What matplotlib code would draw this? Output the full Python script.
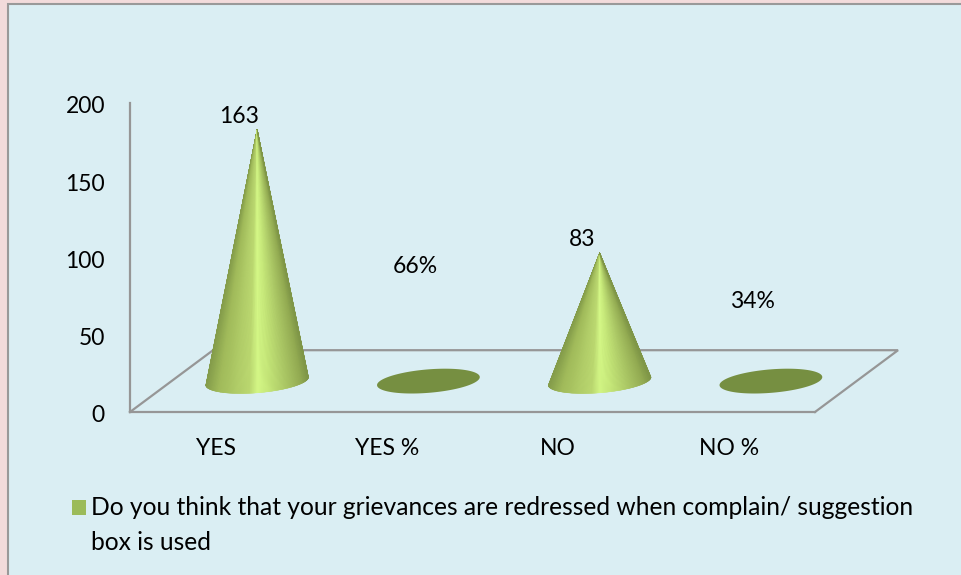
import numpy as np
import matplotlib
matplotlib.use("Agg")
import matplotlib.pyplot as plt
from matplotlib.collections import PolyCollection
from matplotlib.colors import LinearSegmentedColormap
from matplotlib.patches import Patch, Polygon, Rectangle
from matplotlib.transforms import ScaledTranslation

categories = ["YES", "YES %", "NO", "NO %"]
values = [163, 0.66, 83, 0.34]
value_labels = ["163", "66%", "83", "34%"]
y_ticks = [0, 50, 100, 150, 200]
legend_label = ("Do you think that your grievances are redressed when complain/ suggestion\n"
                "box is used")

# label offsets from the cone tip, in pixels
label_offsets = [(-18, 13), (-13, 114), (-18, 13), (-18, 79)]

W, H = 962, 575
depth_x = 0.485  # floor depth, in categories
depth_y = 40     # floor depth, in value units
base_a = 0.30
base_b = 7.6
base_tilt = 2.6
line_color = "#969696"
font_size = 16.5
legend_size = 17.75

plt.rcParams["font.family"] = ["Lato", "DejaVu Sans"]
cone_cmap = LinearSegmentedColormap.from_list("cone", [
    (0.0, "#849c4a"), (0.12, "#a0ba5a"), (0.3, "#b2ce69"), (0.42, "#bcd971"), (0.5, "#d6fa88"),
    (0.6, "#c8ea7b"), (0.8, "#a8c463"), (0.93, "#93ab52"), (1.0, "#7f9647")])


def baseEdge(center, t):
    x = center + base_a * np.cos(t)
    y = depth_y / 2 + base_tilt * np.cos(t) + base_b * np.sin(t)
    return x, y


def drawCone(ax, center, value):
    t = np.linspace(0, 2 * np.pi, 241)
    x, y = baseEdge(center, t)
    if value < 5:
        ax.add_patch(Polygon(np.column_stack([x, y]), closed=True, facecolor="#768f41",
                             edgecolor="none", zorder=3, clip_on=False))
        return
    tip = (center, depth_y / 2 + value)
    t = np.linspace(np.pi, 2 * np.pi, 161)
    x, y = baseEdge(center, t)
    # solid shape under the wedges so the floor line does not show through
    outline = [tip] + list(zip(x, y))
    ax.add_patch(Polygon(outline, closed=True, facecolor="#a5bf5e", edgecolor="none",
                         zorder=2.5, clip_on=False))
    polys = [[tip, (x[k], y[k]), (x[k + 1], y[k + 1])] for k in range(len(t) - 1)]
    shade = (np.cos(t[:-1]) + 1) / 2
    wedges = PolyCollection(polys, array=shade, cmap=cone_cmap, clim=(0, 1),
                            edgecolors="face", linewidths=0.3, zorder=3, clip_on=False)
    ax.add_collection(wedges)


fig = plt.figure(figsize=(W / 100, H / 100), dpi=100, facecolor="#f2dbdb")
fig.add_artist(Rectangle((8 / W, -0.1), 1.1, 0.1 + (H - 4) / H, transform=fig.transFigure,
                         facecolor="#daeef3", edgecolor="#999999", linewidth=1.5, zorder=-1))

ax = fig.add_axes([130 / W, (H - 412) / H, 685 / W, 309 / H])
ax.patch.set_visible(False)
ax.set_xlim(-0.5, 3.5)
ax.set_ylim(0, 200)
for side in ["top", "right"]:
    ax.spines[side].set_visible(False)
for side in ["left", "bottom"]:
    ax.spines[side].set_color(line_color)
    ax.spines[side].set_linewidth(1.6)

ax.set_xticks(range(len(categories)), categories)
ax.set_yticks(y_ticks)
ax.tick_params(axis="x", length=0, pad=19, labelsize=font_size)
ax.tick_params(axis="y", length=0, pad=18, labelsize=font_size)
nudge = ScaledTranslation(0, -2 / 100, fig.dpi_scale_trans)
for tick_label in ax.get_yticklabels():
    tick_label.set_transform(tick_label.get_transform() + nudge)

# floor of the 3d box
floor_x = [-0.5, -0.5 + depth_x, 3.5 + depth_x, 3.5]
floor_y = [0, depth_y, depth_y, 0]
ax.plot(floor_x, floor_y, color=line_color, linewidth=1.6, clip_on=False, zorder=1,
        solid_joinstyle="miter")

for i, value in enumerate(values):
    center = i + depth_x / 2
    drawCone(ax, center, value)
    ax.annotate(value_labels[i], xy=(center, depth_y / 2 + value), xytext=label_offsets[i],
                textcoords="offset pixels", ha="center", va="center", fontsize=font_size,
                color="black", annotation_clip=False)

leg = fig.legend(handles=[Patch(facecolor="#9bbb59", label=legend_label)], loc="upper left",
                 bbox_to_anchor=(72 / W, 1 - 496 / H), frameon=False, fontsize=legend_size,
                 handlelength=0.58, handleheight=0.58, handletextpad=0.2, borderpad=0,
                 borderaxespad=0)
leg.get_texts()[0].set_linespacing(1.65)
leg.legend_handles[0].set_y(14)

fig.savefig("out.png", dpi=100)
